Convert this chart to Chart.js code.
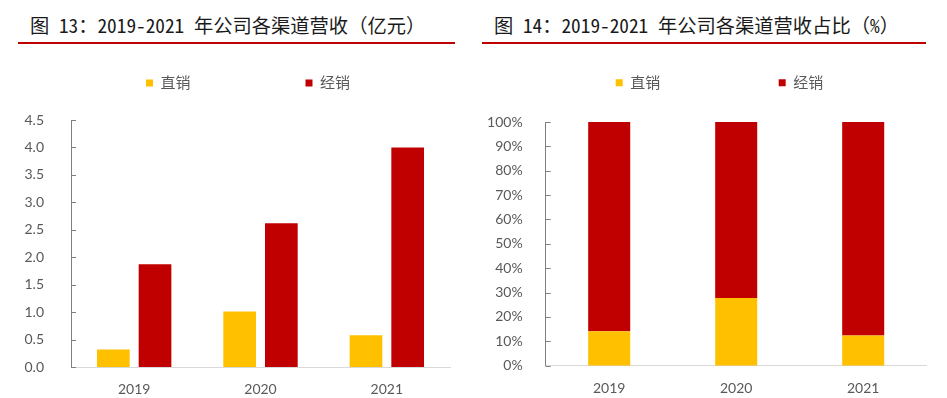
<!DOCTYPE html>
<html lang="zh">
<head>
<meta charset="utf-8">
<title>2019-2021 年公司各渠道营收</title>
<script src="https://cdn.jsdelivr.net/npm/chart.js@4.4.1/dist/chart.umd.min.js"></script>
<style>
    html, body { margin: 0; padding: 0; background: #fff; }
    body { width: 947px; height: 398px; position: relative; overflow: hidden; font-family: "Noto Sans CJK SC", sans-serif; }
    .title { position: absolute; top: 11px; font-size: 19.3px; line-height: 28px; color: #1a1a1a; white-space: pre; }
    .title .hw { font-feature-settings: "hwid" 1; }
    .rule { position: absolute; top: 42px; height: 2px; background: #c00000; }
    canvas { position: absolute; top: 60px; }
</style>
</head>
<body>
<div class="title" style="left:30px">图<span class="hw"> 13</span>：<span class="hw">2019-2021 </span>年公司各渠道营收（亿元）</div>
<div class="rule" style="left:18px;width:437px"></div>
<div class="title" style="left:494px">图<span class="hw"> 14</span>：<span class="hw">2019-2021 </span>年公司各渠道营收占比（<span class="hw">%</span>）</div>
<div class="rule" style="left:482px;width:444px"></div>
<canvas id="revChart" width="473" height="338" style="left:0"></canvas>
<canvas id="shareChart" width="473" height="338" style="left:474px"></canvas>
<script>
// 数据
const years = ['2019', '2020', '2021'];
const channels = ['直销', '经销'];
const directRev = [0.32, 1.01, 0.58];   // 亿元
const dealerRev = [1.87, 2.62, 4.00];
const directShare = [14.1, 27.8, 12.4]; // %
const dealerShare = [85.9, 72.2, 87.6];
const revAxis = { min: 0, max: 4.5, step: 0.5 };
const shareAxis = { min: 0, max: 100, step: 10 };

const YELLOW = '#FFC000';
const RED = '#C00000';
const GREY_TEXT = '#595959';
const tickFont = { family: 'Lato, "Noto Sans CJK SC", sans-serif', size: 14 };
const SP = '\u3000'; // 全角空格，用来拉开图例间距

// 刻度线画在坐标轴内侧
const innerTicks = {
    id: 'innerTicks',
    afterDatasetsDraw(chart) {
        const y = chart.scales.y;
        const ctx = chart.ctx;
        ctx.save();
        ctx.strokeStyle = '#808080';
        ctx.lineWidth = 1;
        y.ticks.forEach(t => {
            const py = Math.round(y.getPixelForValue(t.value)) + 0.5;
            ctx.beginPath();
            ctx.moveTo(y.right, py);
            ctx.lineTo(y.right + 5, py);
            ctx.stroke();
        });
        ctx.restore();
    }
};

function makeChart(id, opts) {
    const ctx = document.getElementById(id).getContext('2d');
    return new Chart(ctx, {
        type: 'bar',
        data: {
            labels: years,
            datasets: [
                { label: channels[0], data: opts.direct, backgroundColor: YELLOW, borderWidth: 0, xAxisID: 'x', stack: opts.stacked ? 's' : 'a' },
                { label: channels[1], data: opts.dealer, backgroundColor: RED, borderWidth: 0, xAxisID: 'x', stack: opts.stacked ? 's' : 'b' }
            ]
        },
        options: {
            responsive: false,
            animation: false,
            layout: { padding: { left: 0, right: opts.padRight, top: opts.padTop, bottom: 0 } },
            datasets: { bar: { categoryPercentage: opts.catPct, barPercentage: opts.barPct } },
            plugins: {
                tooltip: { enabled: false },
                legend: {
                    position: 'top',
                    align: 'end',
                    labels: {
                        boxWidth: 7,
                        boxHeight: 7,
                        padding: opts.legendPad,
                        color: GREY_TEXT,
                        font: { family: 'Lato, "Noto Sans CJK SC", sans-serif', size: 15 },
                        generateLabels(chart) {
                            const items = Chart.defaults.plugins.legend.labels.generateLabels(chart);
                            items.forEach((it, i) => {
                                it.text = it.text + SP.repeat(opts.legendSpaces[i]);
                                it.lineWidth = 0;
                            });
                            return items;
                        }
                    }
                }
            },
            scales: {
                x: {
                    stacked: opts.stacked,
                    grid: { display: false },
                    border: { display: true, color: '#d9d9d9', width: 1 },
                    ticks: { color: GREY_TEXT, font: tickFont, padding: 6 },
                    afterFit(s) { s.height = opts.xHeight; }
                },
                gap: {
                    type: 'category',
                    axis: 'x',
                    position: 'top',
                    grid: { display: false },
                    border: { display: false },
                    ticks: { display: false },
                    afterFit(s) { s.height = opts.gapHeight; }
                },
                y: {
                    stacked: opts.stacked,
                    min: opts.axis.min,
                    max: opts.axis.max,
                    grid: { display: false },
                    border: { display: true, color: '#808080', width: 1 },
                    ticks: {
                        stepSize: opts.axis.step,
                        color: GREY_TEXT,
                        font: tickFont,
                        padding: opts.yPad,
                        callback: opts.fmt
                    },
                    afterFit(s) { s.width = opts.yWidth; }
                }
            }
        },
        plugins: [innerTicks]
    });
}

makeChart('revChart', {
    direct: directRev, dealer: dealerRev, stacked: false, axis: revAxis,
    fmt: v => Number(v).toFixed(1),
    padRight: 23, padTop: 5.5, legendPad: 10, legendSpaces: [7, 6],
    yWidth: 71, yPad: 19, xHeight: 31, gapHeight: 19.5,
    catPct: 0.66, barPct: 0.784
});

makeChart('shareChart', {
    direct: directShare, dealer: dealerShare, stacked: true, axis: shareAxis,
    fmt: v => v + '%',
    padRight: 20.3, padTop: 1.7, legendPad: 13.5, legendSpaces: [7, 6],
    yWidth: 71.7, yPad: 15, xHeight: 32.3, gapHeight: 21.8,
    catPct: 0.331, barPct: 1
});
</script>
</body>
</html>
